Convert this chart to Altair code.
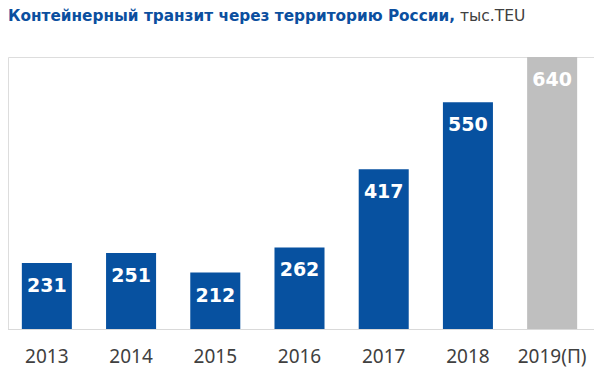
import altair as alt
import pandas as pd

years = ["2013", "2014", "2015", "2016", "2017", "2018", "2019(П)"]
values = [231, 251, 212, 262, 417, 550, 640]
kinds = ["fact", "fact", "fact", "fact", "fact", "fact", "forecast"]
title_main = "Контейнерный транзит через территорию России,"
title_unit = "тыс.TEU"

df = pd.DataFrame({"year": years, "value": values, "kind": kinds})

W, H = 586, 272
BLUE = "#0751A0"
GREY = "#BFBFBF"

xscale = alt.Scale(domain=years, range=[-3, 586], paddingInner=0.406, paddingOuter=0.2)
yscale = alt.Scale(domain=[100, 640], zero=False, nice=False)

base = alt.Chart(df)

bars = base.mark_bar().encode(
    x=alt.X("year:N", scale=xscale, sort=years,
            axis=alt.Axis(title=None, labels=False, ticks=False, tickSize=0,
                          domain=True, domainColor="#D9D9D9", domainWidth=1, grid=False)),
    y=alt.Y("value:Q", scale=yscale, axis=None),
    y2=alt.datum(100),
    color=alt.Color("kind:N", scale=alt.Scale(domain=["fact", "forecast"], range=[BLUE, GREY]), legend=None),
)

vals = base.mark_text(font="DejaVu Sans", fontWeight="bold", fontSize=19, color="white",
                      baseline="alphabetic", dy=29).encode(
    x=alt.X("year:N", scale=xscale, sort=years),
    y=alt.Y("value:Q", scale=yscale),
    text="value:Q",
)

yrs = base.mark_text(font="Noto Sans", fontSize=19, color="#404040",
                     baseline="alphabetic").encode(
    x=alt.X("year:N", scale=xscale, sort=years),
    y=alt.value(H + 34),
    text="year:N",
)

t1 = alt.Chart(pd.DataFrame({"t": [title_main]})).mark_text(
    font="DejaVu Sans", fontWeight="bold", fontSize=15.3, color="#0B4F9F",
    align="left", baseline="alphabetic").encode(
    x=alt.value(0), y=alt.value(21 - 57), text="t:N")

t2 = alt.Chart(pd.DataFrame({"t": [title_unit]})).mark_text(
    font="DejaVu Sans", fontSize=15.5, color="#404040",
    align="left", baseline="alphabetic").encode(
    x=alt.value(452), y=alt.value(21 - 57), text="t:N")

chart = alt.layer(bars, vals, yrs, t1, t2).properties(
    width=W, height=H,
    autosize=alt.AutoSizeParams(type="none"),
    padding={"left": 0, "top": 49, "right": 0, "bottom": 48},
).configure_view(stroke=None).configure(background="white")

chart.save("out.html", embed_options={"renderer": "svg", "actions": False})
